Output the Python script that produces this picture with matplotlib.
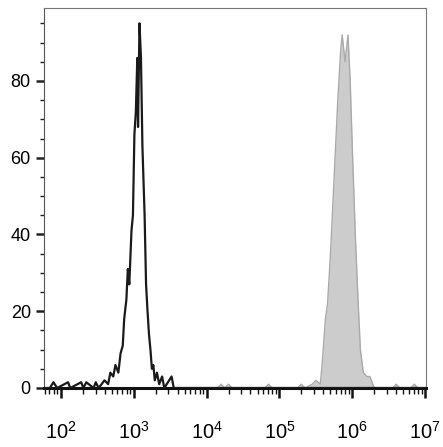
import numpy as np
import matplotlib
matplotlib.use("Agg")
import matplotlib.pyplot as plt
from matplotlib.ticker import FixedLocator

plt.rcParams["font.family"] = ["Liberation Sans", "DejaVu Sans"]
plt.rcParams["mathtext.fontset"] = "custom"
plt.rcParams["mathtext.rm"] = "Liberation Sans"

# control (black outline), log10 fluorescence vs count
ctrl_log = [1.77, 1.85, 1.9, 1.95, 2.1, 2.13, 2.28, 2.31, 2.35, 2.45, 2.48, 2.52, 2.6, 2.65,
            2.68, 2.72, 2.75, 2.79, 2.82, 2.85, 2.87, 2.9, 2.92, 2.94, 2.97, 2.99, 3.01, 3.03,
            3.05, 3.06, 3.08, 3.1, 3.12, 3.15, 3.17, 3.19, 3.21, 3.23, 3.25, 3.27, 3.29, 3.32,
            3.35, 3.39, 3.42, 3.52, 3.55, 3.6, 7.01]
ctrl_cnt = [0, 0, 1.5, 0, 1.5, 0, 1.5, 0, 1.5, 0, 1.5, 0, 2, 1,
            4, 3, 6, 4, 9, 11, 18, 23, 31, 27, 41, 45, 66, 72,
            86, 68, 95, 86, 63, 45, 27, 20, 14, 10, 5, 6, 2, 4,
            1, 3, 0, 3, 0, 0, 0]

# stained sample (grey filled)
stain_log = [1.77, 4.15, 4.2, 4.25, 4.3, 4.35, 4.8, 4.85, 4.9, 5.25, 5.3, 5.35, 5.45, 5.5,
             5.56, 5.58, 5.6, 5.63, 5.66, 5.7, 5.75, 5.8, 5.84, 5.86, 5.9, 5.94, 5.97,
             6.0, 6.04, 6.08, 6.11, 6.15, 6.2, 6.24, 6.3, 6.55, 6.6, 6.65, 6.8, 6.85, 6.9, 7.01]
stain_cnt = [0, 0, 1, 0, 1, 0, 0, 1, 0, 0, 1, 0, 1, 2,
             1, 5, 10, 18, 22, 35, 55, 75, 88, 92, 85, 92, 80,
             62, 40, 22, 10, 4, 3, 3, 0, 0, 1, 0, 0, 1, 0, 0]

fig = plt.figure(figsize=(4.43, 4.47), dpi=100)
ax = fig.add_axes([44 / 443, 59 / 447, 382 / 443, 380 / 447])

sx = 10 ** np.array(stain_log)
ax.fill_between(sx, stain_cnt, color="#cccccc", lw=0, zorder=1)
ax.plot(sx, stain_cnt, color="#aaaaaa", lw=1.0, zorder=2)
ax.plot(10 ** np.array(ctrl_log), ctrl_cnt, color="#1a1a1a", lw=1.6, zorder=3)

ax.set_xscale("log")
ax.set_xlim(10 ** 1.77, 10 ** 7.01)
ax.set_ylim(0, 99)

ax.set_xticks([1e2, 1e3, 1e4, 1e5, 1e6, 1e7])
ax.set_xticklabels([f"$10^{{{e}}}$" for e in range(2, 8)])
ax.xaxis.set_minor_locator(FixedLocator([m * 10 ** e for e in range(1, 7) for m in range(2, 10)]))
ax.tick_params(axis="x", which="major", length=7, width=1.8, pad=17, labelsize=14.5, color="#111")
ax.tick_params(axis="x", which="minor", length=4, width=1.0, color="#111")

ax.set_yticks([0, 20, 40, 60, 80])
ax.yaxis.set_minor_locator(FixedLocator(np.arange(5, 99, 5)))
ax.tick_params(axis="y", which="major", length=6, width=1.8, labelsize=13, color="#222")
ax.tick_params(axis="y", which="minor", length=3, width=1.0, color="#222")

ax.spines["bottom"].set_linewidth(2.2)
ax.spines["bottom"].set_color("#111")
ax.spines["left"].set_linewidth(0.8)
ax.spines["left"].set_color("#555")
for s in ("top", "right"):
    ax.spines[s].set_color("#777")
    ax.spines[s].set_linewidth(0.8)

fig.savefig("out.png", dpi=100, facecolor="white")
